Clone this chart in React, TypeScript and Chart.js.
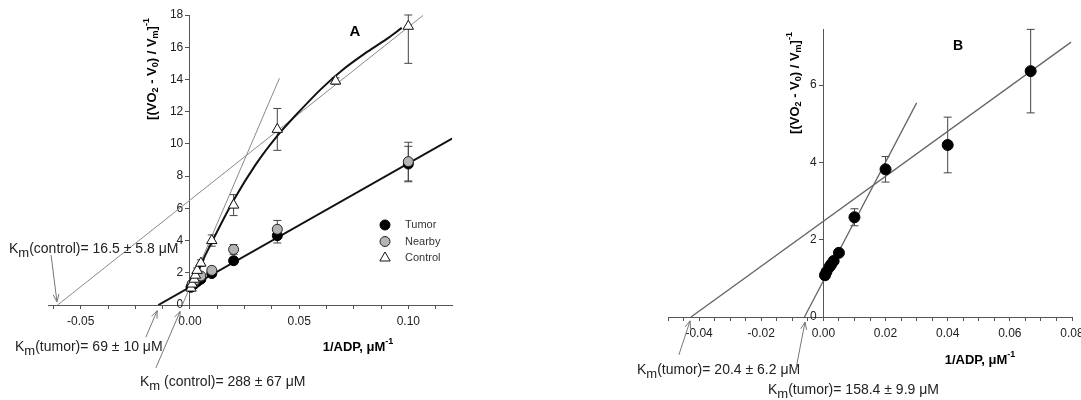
import React, { useEffect, useRef } from "react";
import { Chart, registerables } from "chart.js";

Chart.register(...registerables);

const FONT = "'Liberation Sans', Arial, Helvetica, sans-serif";
Chart.defaults.font.family = FONT;

// ---------------- Panel A data ----------------
const xControlA = [0.0005, 0.001, 0.002, 0.0025, 0.0033, 0.005, 0.01, 0.02, 0.04, 0.0667, 0.1];
const yControlA = [1.05, 1.3, 1.6, 1.85, 2.15, 2.6, 4.0, 6.2, 10.9, 13.9, 17.3];
const errControlA = [0.08, 0.1, 0.12, 0.12, 0.15, 0.2, 0.35, 0.65, 1.3, 0.2, 2.3];

const xTumorA = [0.0005, 0.001, 0.002, 0.0025, 0.0033, 0.005, 0.01, 0.02, 0.04, 0.1];
const yTumorA = [1.1, 1.2, 1.3, 1.4, 1.45, 1.6, 1.95, 2.75, 4.3, 8.75];
const errTumorA = [0.05, 0.05, 0.06, 0.06, 0.08, 0.1, 0.15, 0.2, 0.45, 1.1];

const xNearbyA = [0.001, 0.002, 0.0025, 0.005, 0.01, 0.02, 0.04, 0.1];
const yNearbyA = [1.3, 1.45, 1.55, 1.8, 2.15, 3.45, 4.7, 8.9];
const errNearbyA = [0.08, 0.1, 0.1, 0.15, 0.2, 0.3, 0.55, 1.2];

const xTumorFitA = [-0.0145, 0.1206];
const yTumorFitA = [0, 10.37];
const xControlFitA = [-0.0606, 0.1067];
const yControlFitA = [0, 17.97];
const xControlSteepA = [-0.0035, 0.041];
const yControlSteepA = [0, 14.08];
const xControlCurveA = [0.0005, 0.005, 0.01, 0.02, 0.03, 0.04, 0.05, 0.06, 0.07, 0.08, 0.09, 0.097];
const yControlCurveA = [1.05, 2.5, 3.9, 6.5, 8.7, 10.5, 12.0, 13.4, 14.6, 15.6, 16.5, 17.2];

const xTicksA = [-0.0625, -0.05, -0.0375, -0.025, -0.0125, 0, 0.0125, 0.025, 0.0375, 0.05, 0.0625, 0.075, 0.0875, 0.1, 0.1125];
const xLabelsA = [-0.05, 0, 0.05, 0.1];
const yTicksA = [0, 2, 4, 6, 8, 10, 12, 14, 16, 18];

// ---------------- Panel B data ----------------
const xTumorB = [0.0005, 0.001, 0.002, 0.0025, 0.0033, 0.005, 0.01, 0.02, 0.04, 0.0667];
const yTumorB = [1.08, 1.17, 1.3, 1.36, 1.45, 1.66, 2.58, 3.82, 4.45, 6.36];
const errTumorB = [0.05, 0.05, 0.05, 0.05, 0.06, 0.08, 0.22, 0.33, 0.72, 1.08];

const xShallowFitB = [-0.0426, 0.0797];
const yShallowFitB = [0, 7.11];
const xSteepFitB = [-0.0061, 0.03];
const ySteepFitB = [0, 5.54];

const xTicksB = [
  -0.05, -0.045, -0.04, -0.035, -0.03, -0.025, -0.02, -0.015, -0.01, -0.005, 0,
  0.005, 0.01, 0.015, 0.02, 0.025, 0.03, 0.035, 0.04, 0.045, 0.05, 0.055, 0.06,
  0.065, 0.07, 0.075, 0.08,
];
const xLabelsB = [-0.04, -0.02, 0, 0.02, 0.04, 0.06, 0.08];
const yTicksB = [0, 2, 4, 6];

// ---------------- Text ----------------
const kmTextA = ["(control)= 16.5 ± 5.8 μM", "(tumor)= 69 ± 10 μM", " (control)= 288 ± 67 μM"];
const kmTextB = ["(tumor)= 20.4 ± 6.2 μM", "(tumor)= 158.4 ± 9.9 μM"];

type Part = { t: string; size: number; bold?: boolean; dy?: number };

const Y_TITLE: Part[] = [
  { t: "[(VO", size: 13, bold: true },
  { t: "2", size: 9, bold: true, dy: 4 },
  { t: " - V", size: 13, bold: true },
  { t: "0", size: 9, bold: true, dy: 4 },
  { t: ") / V", size: 13, bold: true },
  { t: "m", size: 9, bold: true, dy: 4 },
  { t: "]", size: 13, bold: true },
  { t: "-1", size: 9, bold: true, dy: -5 },
];
const X_TITLE: Part[] = [
  { t: "1/ADP, μM", size: 13, bold: true },
  { t: "-1", size: 9, bold: true, dy: -5 },
];

const AXIS = "#555";
const TICK_TEXT = "#222";

function pts(xs: number[], ys: number[]) {
  return xs.map((x, i) => ({ x, y: ys[i] }));
}

function partFont(p: Part) {
  return `${p.bold ? "bold " : ""}${p.size}px ${FONT}`;
}

function drawParts(ctx: CanvasRenderingContext2D, parts: Part[], x: number, y: number, align: "left" | "center", color: string) {
  ctx.save();
  ctx.fillStyle = color;
  ctx.textBaseline = "middle";
  ctx.textAlign = "left";
  const widths = parts.map((p) => {
    ctx.font = partFont(p);
    return ctx.measureText(p.t).width;
  });
  const total = widths.reduce((a, b) => a + b, 0);
  let cx = align === "center" ? x - total / 2 : x;
  parts.forEach((p, i) => {
    ctx.font = partFont(p);
    ctx.fillText(p.t, cx, y + (p.dy || 0));
    cx += widths[i];
  });
  ctx.restore();
}

function kmParts(rest: string): Part[] {
  return [
    { t: "K", size: 14 },
    { t: "m", size: 13, dy: 4 },
    { t: rest, size: 14 },
  ];
}

function drawArrow(ctx: CanvasRenderingContext2D, x1: number, y1: number, x2: number, y2: number) {
  ctx.save();
  ctx.strokeStyle = "#777";
  ctx.lineWidth = 1;
  ctx.beginPath();
  ctx.moveTo(x1, y1);
  ctx.lineTo(x2, y2);
  const a = Math.atan2(y2 - y1, x2 - x1);
  const L = 8;
  const sp = 0.38;
  ctx.moveTo(x2 - L * Math.cos(a - sp), y2 - L * Math.sin(a - sp));
  ctx.lineTo(x2, y2);
  ctx.lineTo(x2 - L * Math.cos(a + sp), y2 - L * Math.sin(a + sp));
  ctx.stroke();
  ctx.restore();
}

function drawMarker(ctx: CanvasRenderingContext2D, style: string, x: number, y: number, r: number, fill: string, stroke: string) {
  ctx.save();
  ctx.fillStyle = fill;
  ctx.strokeStyle = stroke;
  ctx.lineWidth = 1;
  ctx.beginPath();
  if (style === "triangle") {
    ctx.moveTo(x, y - r);
    ctx.lineTo(x + r * 0.866, y + r * 0.5);
    ctx.lineTo(x - r * 0.866, y + r * 0.5);
    ctx.closePath();
  } else {
    ctx.arc(x, y, r, 0, Math.PI * 2);
  }
  ctx.fill();
  ctx.stroke();
  ctx.restore();
}

type Note = { text: string; left: number; y: number; from: [number, number]; to: [number, number] };

type PanelSpec = {
  canvasLeft: number;
  canvasWidth: number;
  padLeft: number;
  padRight: number;
  padTop: number;
  xAxisHeight: number;
  xMin: number;
  xMax: number;
  yMin: number;
  yMax: number;
  xTicks: number[];
  xLabels: number[];
  yTicks: number[];
  letter: { t: string; x: number; y: number; size: number };
  yTitle: { x: number; y: number };
  xTitle: { x: number; y: number };
  legend?: { x: number; y0: number; dy: number; textX: number };
  notes: Note[];
  datasets: any[];
};

const lineDs = (xs: number[], ys: number[], color: string, width: number, order: number, tension = 0) => ({
  data: pts(xs, ys),
  showLine: true,
  pointRadius: 0,
  borderColor: color,
  borderWidth: width,
  tension,
  cubicInterpolationMode: tension ? "monotone" : "default",
  fill: false,
  order,
});

const panelA: PanelSpec = {
  canvasLeft: 0,
  canvasWidth: 560,
  padLeft: 48,
  padRight: 108,
  padTop: 15,
  xAxisHeight: 95,
  xMin: -0.065,
  xMax: 0.12,
  yMin: 0,
  yMax: 18,
  xTicks: xTicksA,
  xLabels: xLabelsA,
  yTicks: yTicksA,
  letter: { t: "A", x: 355, y: 32, size: 15 },
  yTitle: { x: 152, y: 69 },
  xTitle: { x: 358, y: 347 },
  legend: { x: 385, y0: 225, dy: 16.5, textX: 405 },
  notes: [
    { text: kmTextA[0], left: 9, y: 249, from: [-0.0636, 3.1], to: [-0.0609, 0.2] },
    { text: kmTextA[1], left: 15, y: 347, from: [-0.0202, -2.0], to: [-0.015, -0.35] },
    { text: kmTextA[2], left: 140, y: 382, from: [-0.0156, -3.9], to: [-0.0045, -0.4] },
  ],
  datasets: [
    {
      label: "Tumor",
      data: pts(xTumorA, yTumorA),
      errors: errTumorA,
      legendRow: 0,
      pointStyle: "circle",
      pointRadius: 5,
      pointBackgroundColor: "#000",
      pointBorderColor: "#000",
      pointBorderWidth: 1,
      showLine: false,
      order: 2,
    },
    {
      label: "Nearby",
      data: pts(xNearbyA, yNearbyA),
      errors: errNearbyA,
      legendRow: 1,
      pointStyle: "circle",
      pointRadius: 5,
      pointBackgroundColor: "#b4b4b4",
      pointBorderColor: "#222",
      pointBorderWidth: 1,
      showLine: false,
      order: 1,
    },
    {
      label: "Control",
      data: pts(xControlA, yControlA),
      errors: errControlA,
      legendRow: 2,
      pointStyle: "triangle",
      pointRadius: 6,
      pointBackgroundColor: "#fff",
      pointBorderColor: "#111",
      pointBorderWidth: 1,
      showLine: false,
      order: 0,
    },
    lineDs(xControlFitA, yControlFitA, "#8a8a8a", 1, 6),
    lineDs(xControlSteepA, yControlSteepA, "#8a8a8a", 1, 6),
    lineDs(xTumorFitA, yTumorFitA, "#111", 2, 5),
    lineDs(xControlCurveA, yControlCurveA, "#111", 2, 5, 0.4),
  ],
};

const panelB: PanelSpec = {
  canvasLeft: 560,
  canvasWidth: 540,
  padLeft: 108,
  padRight: 28,
  padTop: 29,
  xAxisHeight: 83,
  xMin: -0.05,
  xMax: 0.08,
  yMin: 0,
  yMax: 7.45,
  xTicks: xTicksB,
  xLabels: xLabelsB,
  yTicks: yTicksB,
  letter: { t: "B", x: 398, y: 46, size: 14 },
  yTitle: { x: 235, y: 83 },
  xTitle: { x: 420, y: 360 },
  notes: [
    { text: kmTextB[0], left: 77, y: 370, from: [-0.0465, -0.98], to: [-0.0429, -0.1] },
    { text: kmTextB[1], left: 208, y: 390, from: [-0.0091, -1.45], to: [-0.0059, -0.13] },
  ],
  datasets: [
    {
      label: "Tumor",
      data: pts(xTumorB, yTumorB),
      errors: errTumorB,
      pointStyle: "circle",
      pointRadius: 5.5,
      pointBackgroundColor: "#000",
      pointBorderColor: "#000",
      pointBorderWidth: 1,
      showLine: false,
      order: 0,
    },
    lineDs(xShallowFitB, yShallowFitB, "#666", 1.3, 3),
    lineDs(xSteepFitB, ySteepFitB, "#666", 1.3, 3),
  ],
};

function makeConfig(p: PanelSpec): any {
  const decor = {
    id: "decor" + p.letter.t,
    beforeDatasetsDraw(chart: any) {
      const ctx: CanvasRenderingContext2D = chart.ctx;
      const xs = chart.scales.x;
      const ys = chart.scales.y;
      const area = chart.chartArea;
      ctx.save();
      ctx.strokeStyle = "#444";
      ctx.lineWidth = 1;
      chart.data.datasets.forEach((ds: any) => {
        if (!ds.errors) return;
        ds.data.forEach((pt: any, i: number) => {
          const e = ds.errors[i];
          if (!e) return;
          const px = xs.getPixelForValue(pt.x);
          const top = Math.max(area.top, ys.getPixelForValue(pt.y + e));
          const bot = Math.min(area.bottom, ys.getPixelForValue(pt.y - e));
          ctx.beginPath();
          ctx.moveTo(px, top);
          ctx.lineTo(px, bot);
          ctx.moveTo(px - 4, top);
          ctx.lineTo(px + 4, top);
          ctx.moveTo(px - 4, bot);
          ctx.lineTo(px + 4, bot);
          ctx.stroke();
        });
      });
      ctx.restore();
    },
    afterDraw(chart: any) {
      const ctx: CanvasRenderingContext2D = chart.ctx;
      const xs = chart.scales.x;
      const ys = chart.scales.y;
      // panel letter
      drawParts(ctx, [{ t: p.letter.t, size: p.letter.size, bold: true }], p.letter.x, p.letter.y, "center", "#000");
      // y title (rotated)
      ctx.save();
      ctx.translate(p.yTitle.x, p.yTitle.y);
      ctx.rotate(-Math.PI / 2);
      drawParts(ctx, Y_TITLE, 0, 0, "center", "#000");
      ctx.restore();
      // x title
      drawParts(ctx, X_TITLE, p.xTitle.x, p.xTitle.y, "center", "#000");
      // Km annotations
      p.notes.forEach((n) => {
        drawArrow(
          ctx,
          xs.getPixelForValue(n.from[0]),
          ys.getPixelForValue(n.from[1]),
          xs.getPixelForValue(n.to[0]),
          ys.getPixelForValue(n.to[1])
        );
        drawParts(ctx, kmParts(n.text), n.left, n.y, "left", "#222");
      });
      // legend
      if (p.legend) {
        const lg = p.legend;
        chart.data.datasets.forEach((ds: any) => {
          if (ds.legendRow === undefined) return;
          const y = lg.y0 + ds.legendRow * lg.dy;
          drawMarker(ctx, ds.pointStyle, lg.x, y, ds.pointStyle === "triangle" ? 6 : 5, ds.pointBackgroundColor, ds.pointBorderColor);
          drawParts(ctx, [{ t: ds.label, size: 11 }], lg.textX, y, "left", "#333");
        });
      }
    },
  };

  const isLabel = (list: number[]) => (v: any) => {
    const n = Number(v);
    return list.some((l) => Math.abs(l - n) < 1e-9) ? (Math.abs(n) < 1e-12 ? "0.00" : n.toFixed(2)) : "";
  };

  return {
    type: "scatter",
    data: { datasets: p.datasets },
    options: {
      responsive: false,
      maintainAspectRatio: false,
      animation: false,
      devicePixelRatio: 1,
      events: [],
      layout: { padding: { left: p.padLeft, right: p.padRight, top: p.padTop, bottom: 0 } },
      plugins: { legend: { display: false }, tooltip: { enabled: false }, title: { display: false } },
      scales: {
        x: {
          type: "linear",
          position: "bottom",
          min: p.xMin,
          max: p.xMax,
          afterBuildTicks: (scale: any) => {
            scale.ticks = p.xTicks.map((v) => ({ value: v }));
          },
          afterFit: (scale: any) => {
            scale.height = p.xAxisHeight;
          },
          grid: { drawOnChartArea: false, drawTicks: true, tickLength: 4, color: AXIS, lineWidth: 1 },
          border: { display: true, color: AXIS, width: 1 },
          ticks: {
            autoSkip: false,
            maxRotation: 0,
            minRotation: 0,
            padding: 5,
            color: TICK_TEXT,
            font: { size: 12, family: FONT },
            callback: isLabel(p.xLabels),
          },
          title: { display: false },
        },
        y: {
          type: "linear",
          position: { x: 0 },
          min: p.yMin,
          max: p.yMax,
          afterBuildTicks: (scale: any) => {
            scale.ticks = p.yTicks.map((v) => ({ value: v }));
          },
          afterFit: (scale: any) => {
            scale.width = 0;
          },
          grid: { drawOnChartArea: false, drawTicks: true, tickLength: 4, color: AXIS, lineWidth: 1 },
          border: { display: true, color: AXIS, width: 1 },
          ticks: {
            padding: 3,
            color: TICK_TEXT,
            font: { size: 12, family: FONT },
            // trailing spaces keep the right-aligned label clear of the tick mark
            callback: (v: any) => String(Number(v)) + "  ",
          },
          title: { display: false },
        },
      },
    },
    plugins: [decor],
  };
}

function Panel({ spec }: { spec: PanelSpec }) {
  const ref = useRef<HTMLCanvasElement | null>(null);
  useEffect(() => {
    if (!ref.current) return;
    const chart = new Chart(ref.current, makeConfig(spec));
    return () => chart.destroy();
  }, [spec]);
  return (
    <canvas
      ref={ref}
      width={spec.canvasWidth}
      height={400}
      style={{ position: "absolute", left: spec.canvasLeft, top: 0, width: spec.canvasWidth, height: 400 }}
    />
  );
}

export default function App() {
  return (
    <div
      style={{
        position: "fixed",
        left: 0,
        top: 0,
        width: 1081,
        height: 400,
        overflow: "hidden",
        background: "#fff",
      }}
    >
      <Panel spec={panelA} />
      <Panel spec={panelB} />
    </div>
  );
}
